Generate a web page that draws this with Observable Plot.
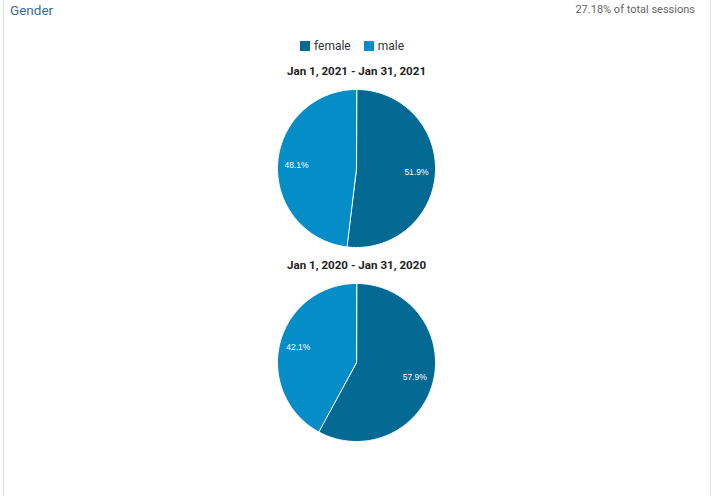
<!DOCTYPE html>
<html>
<head>
<meta charset="utf-8">
<script src="https://cdn.jsdelivr.net/npm/d3@7"></script>
<script src="https://cdn.jsdelivr.net/npm/@observablehq/plot@0.6"></script>
<style>
  body { margin: 0; background: #fff; font-family: Roboto, "Liberation Sans", sans-serif; }
  #wrap { position: relative; width: 713px; height: 496px; overflow: hidden; background: #fff; }
  #frame { position: absolute; left: 3px; top: -2px; width: 708px; height: 500px; box-sizing: border-box;
           border-left: 1px solid #e2e2e2; border-right: 1px solid #e2e2e2; pointer-events: none; }
  #head { position: relative; height: 58px; }
  #title { position: absolute; left: 10px; top: 2px; font-size: 13.5px; color: #3a6c98; }
  #sub { position: absolute; right: 18px; top: 3px; font-size: 11px; color: #666; }
  #legend { position: absolute; left: 300px; top: 39px; display: flex; align-items: center; font-size: 12px; color: #333; }
  .sw { width: 10px; height: 10px; display: inline-block; margin-right: 4px; }
  .item { display: flex; align-items: center; margin-right: 13px; }
  #chart svg { display: block; }
</style>
</head>
<body>
<div id="wrap">
  <div id="head">
    <div id="title"></div>
    <div id="sub"></div>
    <div id="legend"></div>
  </div>
  <div id="chart"></div>
  <div id="frame"></div>
</div>
<script>
// ---- data ----
const chartTitle = "Gender";
const sessionsNote = "27.18% of total sessions";
const periods = ["Jan 1, 2021 - Jan 31, 2021", "Jan 1, 2020 - Jan 31, 2020"];
const genders = ["female", "male"];
const femaleShare = [51.9, 57.9];
const maleShare = [48.1, 42.1];
const colors = ["#056a93", "#058dc7"];

// ---- header ----
document.getElementById("title").textContent = chartTitle;
document.getElementById("sub").textContent = sessionsNote;
const legend = document.getElementById("legend");
genders.forEach((g, i) => {
  const it = document.createElement("div");
  it.className = "item";
  const sw = document.createElement("span");
  sw.className = "sw";
  sw.style.background = colors[i];
  const lab = document.createElement("span");
  lab.textContent = g;
  it.appendChild(sw); it.appendChild(lab);
  legend.appendChild(it);
});

// ---- geometry built from data ----
const rowGap = 194 / 79; // distance between pie centres, in radius units
const slicePts = [];
const labels = [];
const titles = [];
periods.forEach((p, i) => {
  const cy = -i * rowGap;
  const vals = [femaleShare[i], maleShare[i]];
  titles.push({x: 0, y: cy + 1, text: p});
  let a0 = 0;
  genders.forEach((g, j) => {
    const a1 = a0 + vals[j] / 100 * 2 * Math.PI;
    const key = p + "|" + g;
    slicePts.push({key, gender: g, x: 0, y: cy});
    const n = Math.max(2, Math.ceil((a1 - a0) / (Math.PI / 180)));
    for (let k = 0; k <= n; k++) {
      const t = a0 + (a1 - a0) * k / n;
      slicePts.push({key, gender: g, x: Math.sin(t), y: cy + Math.cos(t)});
    }
    const mid = (a0 + a1) / 2;
    labels.push({x: 0.76 * Math.sin(mid), y: cy + 0.76 * Math.cos(mid), text: vals[j].toFixed(1) + "%"});
    a0 = a1;
  });
});

const plot = Plot.plot({
  width: 713,
  height: 438,
  marginLeft: 277,
  marginRight: 278,
  marginTop: 31,
  marginBottom: 249,
  style: {background: "transparent", fontFamily: "Roboto, sans-serif", overflow: "visible"},
  x: {domain: [-1, 1], axis: null},
  y: {domain: [-1, 1], axis: null},
  color: {domain: genders, range: colors},
  marks: [
    Plot.line(slicePts, {x: "x", y: "y", z: "key", fill: "gender", stroke: "white", strokeWidth: 1, curve: "linear-closed"}),
    Plot.text(labels, {x: "x", y: "y", text: "text", fill: "white", fontSize: 8.5, fontFamily: "Liberation Sans, Arial, sans-serif"}),
    Plot.text(titles, {x: "x", y: "y", text: "text", dy: -18, fontSize: 11.6, fontWeight: "bold", fill: "#222"})
  ]
});
document.getElementById("chart").appendChild(plot);
</script>
</body>
</html>
